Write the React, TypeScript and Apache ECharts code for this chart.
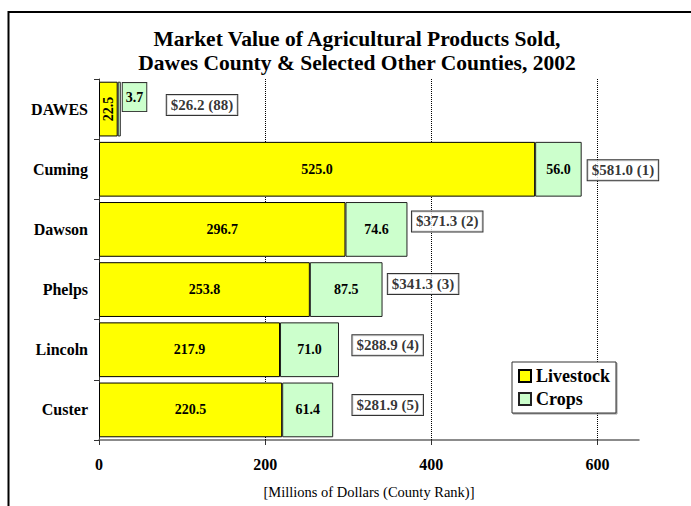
import React, { useEffect, useRef } from "react";
import * as echarts from "echarts";

const categories = ["DAWES", "Cuming", "Dawson", "Phelps", "Lincoln", "Custer"];
const livestock = [22.5, 525.0, 296.7, 253.8, 217.9, 220.5];
const crops = [3.7, 56.0, 74.6, 87.5, 71.0, 61.4];
const totals = [26.2, 581.0, 371.3, 341.3, 288.9, 281.9];
const ranks = [88, 1, 2, 3, 4, 5];
const xTicks = [0, 200, 400, 600];
const gridValues = [200, 400, 600];

// label nudges (px) for the total boxes
const totalOffsets: [number, number][] = [
  [46, -4],
  [6, 1],
  [4.5, -8],
  [5.3, -5.5],
  [13.4, -4.5],
  [19.3, -5],
];

const FONT = "'Liberation Serif', 'Times New Roman', serif";

export default function App() {
  const ref = useRef<HTMLDivElement>(null);
  useEffect(() => {
    if (!ref.current) return;
    const chart = echarts.init(ref.current, undefined, { renderer: "svg" });
    const option: any = {
      animation: false,
      backgroundColor: "#ffffff",
      textStyle: { fontFamily: FONT, color: "#000" },
      title: {
        text: "Market Value of Agricultural Products Sold,\nDawes County & Selected Other Counties, 2002",
        left: 357,
        top: 27,
        padding: 0,
        textAlign: "center",
        textStyle: {
          fontFamily: FONT,
          fontSize: 21.5,
          fontWeight: "bold",
          color: "#000",
          lineHeight: 24,
        },
      },
      legend: {
        data: ["Livestock", "Crops"],
        orient: "vertical",
        left: 512,
        top: 362,
        itemWidth: 12,
        itemHeight: 12,
        itemGap: 5,
        padding: [5, 6, 5, 6],
        backgroundColor: "#fff",
        borderColor: "#333",
        borderWidth: 1,
        shadowColor: "rgba(0,0,0,0.4)",
        shadowOffsetX: 1,
        shadowOffsetY: 1,
        icon: "rect",
        textStyle: { fontFamily: FONT, fontSize: 18, fontWeight: "bold", color: "#000" },
      },
      grid: { left: 99, right: 52, top: 79, bottom: 66, containLabel: false },
      xAxis: {
        type: "value",
        min: 0,
        max: 650,
        name: "[Millions of Dollars (County Rank)]",
        nameLocation: "middle",
        nameGap: 44,
        nameTextStyle: { fontFamily: FONT, fontSize: 14.5, color: "#000" },
        axisLine: { show: true, lineStyle: { color: "#666", width: 1.5 } },
        axisTick: { show: true, length: 5, customValues: xTicks, lineStyle: { color: "#333" } },
        axisLabel: {
          customValues: xTicks,
          fontFamily: FONT,
          fontSize: 16,
          fontWeight: "bold",
          color: "#000",
          margin: 16,
        },
        splitLine: { show: false },
      },
      yAxis: {
        type: "category",
        inverse: true,
        data: categories,
        axisLine: { show: true, lineStyle: { color: "#333", width: 1 } },
        axisTick: { show: true, length: 5, lineStyle: { color: "#333" } },
        axisLabel: {
          fontFamily: FONT,
          fontSize: 16,
          fontWeight: "bold",
          color: "#000",
          margin: 11,
        },
      },
      series: [
        {
          name: "Livestock",
          type: "bar",
          stack: "total",
          barCategoryGap: "9%",
          z: 2,
          itemStyle: { color: "#ffff00", borderColor: "#000", borderWidth: 1 },
          label: {
            show: true,
            position: "inside",
            fontFamily: FONT,
            fontSize: 14,
            fontWeight: "bold",
            color: "#000",
            formatter: (p: any) => Number(p.value).toFixed(1),
          },
          data: livestock.map((v, i) =>
            i === 0
              ? { value: v, label: { rotate: 90 } }
              : { value: v }
          ),
          markLine: {
            silent: true,
            z: 1,
            symbol: ["none", "none"],
            label: { show: false },
            lineStyle: { type: "dotted", color: "#000", width: 1 },
            data: gridValues.map((g) => ({ xAxis: g })),
          },
        },
        {
          name: "Crops",
          type: "bar",
          stack: "total",
          z: 2,
          itemStyle: { color: "#ccffcc", borderColor: "#222", borderWidth: 1 },
          label: {
            show: true,
            position: "inside",
            fontFamily: FONT,
            fontSize: 14,
            fontWeight: "bold",
            color: "#000",
            formatter: (p: any) => Number(p.value).toFixed(1),
          },
          data: crops.map((v, i) =>
            i === 0
              ? {
                  value: v,
                  label: {
                    position: "right",
                    distance: 2,
                    offset: [0, -12],
                    backgroundColor: "#ccffcc",
                    borderColor: "#333",
                    borderWidth: 1,
                    padding: [7, 3, 7, 3],
                  },
                }
              : { value: v }
          ),
        },
        {
          name: "Total",
          type: "scatter",
          symbolSize: 0,
          z: 5,
          silent: true,
          label: {
            show: true,
            position: "right",
            distance: 0,
            fontFamily: FONT,
            fontSize: 15,
            fontWeight: "bold",
            color: "#000",
            backgroundColor: "#fff",
            borderColor: "#000",
            borderWidth: 1,
            padding: [3, 4, 2, 4],
            formatter: (p: any) => `$${totals[p.dataIndex].toFixed(1)} (${ranks[p.dataIndex]})`,
          },
          data: totals.map((t, i) => ({
            value: [t, categories[i]],
            label: { offset: totalOffsets[i] },
          })),
        },
      ],
      graphic: [
        {
          type: "line",
          shape: { x1: 8.5, y1: 12, x2: 700, y2: 12 },
          style: { stroke: "#000", lineWidth: 2 },
          silent: true,
        },
        {
          type: "line",
          shape: { x1: 8.5, y1: 11, x2: 8.5, y2: 520 },
          style: { stroke: "#000", lineWidth: 2 },
          silent: true,
        },
      ],
    };
    chart.setOption(option);
    return () => chart.dispose();
  }, []);
  return (
    <div
      ref={ref}
      style={{ position: "fixed", left: 0, top: 0, width: 691, height: 506, background: "#fff" }}
    />
  );
}
